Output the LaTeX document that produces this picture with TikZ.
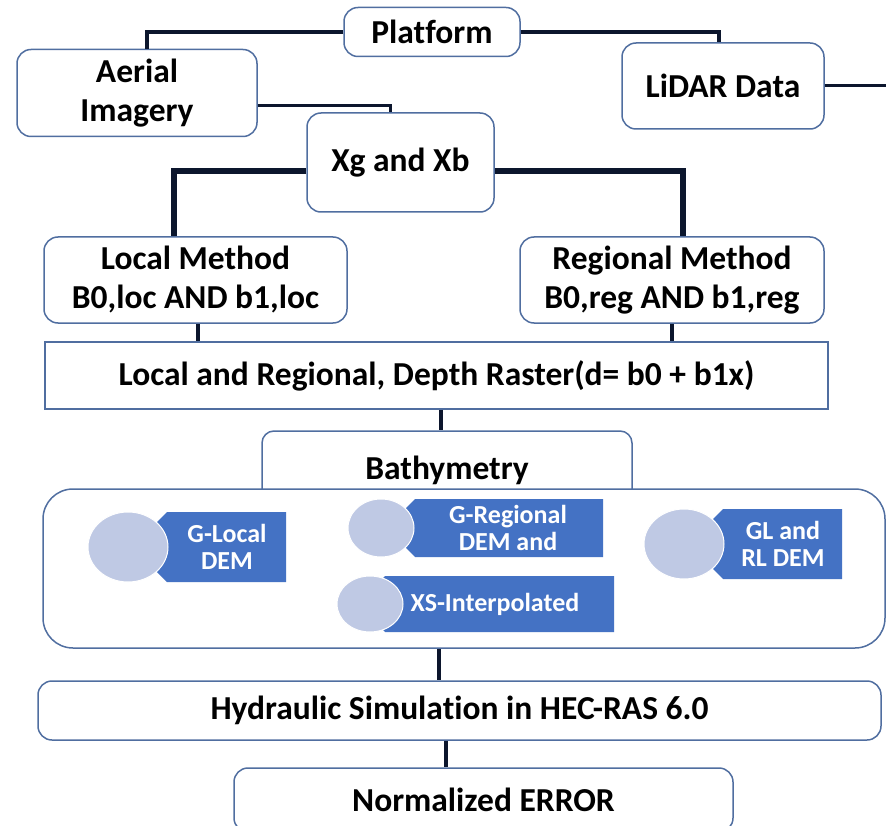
\documentclass[tikz,border=0pt]{standalone}
\usepackage{fontspec}
\setmainfont{Carlito}[Ligatures=NoCommon]
\usetikzlibrary{positioning}

\definecolor{boxline}{RGB}{80,110,160}
\definecolor{linkline}{RGB}{12,22,45}
\definecolor{itemblue}{RGB}{68,114,196}
\definecolor{itemdot}{RGB}{191,201,228}

\tikzset{
  box/.style={draw=boxline, line width=1.5pt, rounded corners=14pt, fill=white,
    align=center, inner sep=0pt, font=\fontsize{33.5}{39}\selectfont\bfseries},
  flatbox/.style={box, rounded corners=0pt},
  link/.style={draw=linkline, line width=4pt},
  thinlink/.style={link, line width=3pt},
  thicklink/.style={link, line width=6pt},
  itemtext/.style={text=white, align=center, inner sep=0pt,
    font=\fontsize{26}{27}\selectfont\bfseries}
}

\begin{document}
\begin{tikzpicture}[x=1pt,y=-1pt]
\useasboundingbox (0,0) rectangle (886,826);
\clip (0,0) rectangle (886,826);

% Draw the data sources
\node[box, minimum width=176pt, minimum height=49pt] (platform) at (432,32) {Platform};
\node[box, minimum width=240pt, minimum height=87pt] (aerial) at (137,93) {Aerial\\Imagery};
\node[box, minimum width=202pt, minimum height=86pt] (lidar) at (723,86) {LiDAR Data};
\coordinate (lidarend) at (890,86);
\node[box, minimum width=187pt, minimum height=99pt] (xgxb) at (400.5,162.5) {Xg and Xb};

% Draw the two methods and the depth raster
\node[box, minimum width=303pt, minimum height=86pt] (local) at (195.5,280) {Local Method\\B0,loc AND b1,loc};
\node[box, minimum width=304pt, minimum height=86pt] (regional) at (672,280) {Regional Method\\B0,reg AND b1,reg};
\node[flatbox, minimum width=783pt, minimum height=67pt] (raster) at (436.5,375.5) {Local and Regional, Depth Raster(d= b0 + b1x)};

% Draw the bathymetry group
\node[box, minimum width=370pt, minimum height=78pt, rounded corners=12pt] (bathy) at (447,470) {Bathymetry};
\node[box, minimum width=842pt, minimum height=159pt, rounded corners=30pt] (bathybox) at (464,568.5) {};

% Loop to draw the DEM items
\foreach \cx/\cy/\rx/\ry/\lc/\rr/\tx/\txt [count=\k] in {
    128/547/40/35/167/286/227/{G-Local\\DEM},
    381/528/33/29/415/603/508/{G-Regional\\DEM and},
    370/604/33/28/385/614/495/{XS-Interpolated},
    684/544/40/35/723/842/783/{GL and\\RL DEM}} {
  \fill[itemblue] (\lc,\cy-\ry) -- (\rr,\cy-\ry) -- (\rr,\cy+\ry) -- (\lc,\cy+\ry) -- (\lc-\ry,\cy) -- cycle;
  \filldraw[fill=itemdot, draw=white, line width=1pt] (\cx,\cy) ellipse [x radius=\rx, y radius=\ry];
  \node[itemtext] (item\k) at (\tx,\cy) {\txt};
}

% Draw the simulation and the error
\node[box, minimum width=843pt, minimum height=59pt] (hydraulic) at (459.5,710.5) {Hydraulic Simulation in HEC-RAS 6.0};
\node[box, minimum width=499pt, minimum height=64pt] (error) at (483.5,800) {Normalized ERROR};

% Connectors
\draw[link] (platform.west) -| ([xshift=10pt]aerial.north);
\draw[link] (platform.east) -| ([xshift=-4pt]lidar.north);
\draw[thinlink] ([yshift=-13pt]aerial.east) -| ([xshift=-10.5pt]xgxb.north);
\draw[thinlink] (lidar.east) -- (lidarend);
\draw[thicklink] ([yshift=-8.5pt]xgxb.west) -| ([xshift=-22pt]local.north);
\draw[thicklink] ([yshift=-8.5pt]xgxb.east) -| ([xshift=11pt]regional.north);
\draw[link] ([xshift=2.5pt]local.south) -- ([xshift=2.5pt]local.south |- raster.north);
\draw[link] (regional.south) -- (regional.south |- raster.north);
\draw[link] ([xshift=4.5pt]raster.south) -- ([xshift=4.5pt]raster.south |- bathy.north);
\draw[link] ([xshift=-25pt]bathybox.south) -- ([xshift=-25pt]bathybox.south |- hydraulic.north);
\draw[link] ([xshift=-13.5pt]hydraulic.south) -- ([xshift=-13.5pt]hydraulic.south |- error.north);

\end{tikzpicture}
\end{document}
